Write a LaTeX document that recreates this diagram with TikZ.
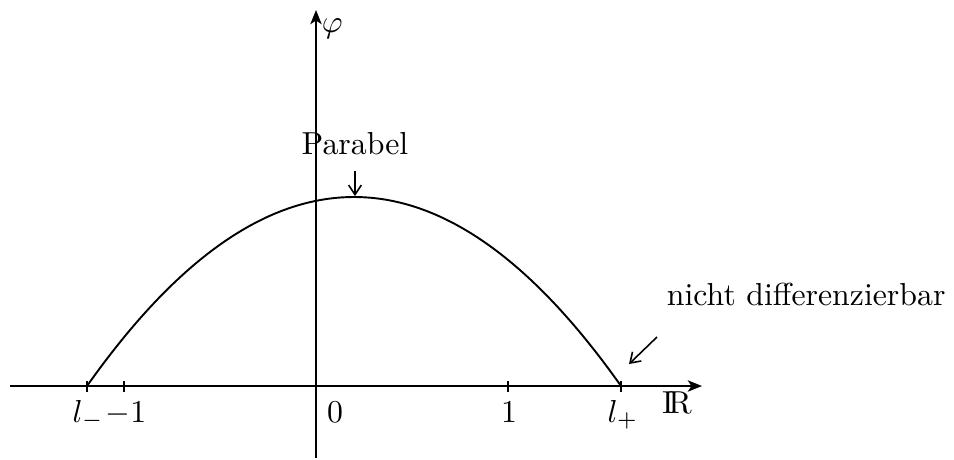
\documentclass[tikz,border=0pt]{standalone}
\usetikzlibrary{arrows.meta}
\begin{document}
\begin{tikzpicture}[x=0.3145pt,y=-0.3145pt, line width=0.6pt,
  axis/.style={-{Stealth[length=4.5pt,width=3.6pt,inset=1.2pt]}},
  tickmark/.style={line width=0.5pt},
  lbl/.style={inner sep=0pt, anchor=base},
  pointer/.style={-{Straight Barb[length=3pt,width=4pt]}, line width=0.5pt}]
\useasboundingbox (0,0) rectangle (954,459);
% axes
\coordinate (xs) at (10,386);
\coordinate (xe) at (702,386);
\coordinate (ys) at (316,458);
\coordinate (ye) at (316,10);
\draw[axis, line width=0.5pt] (xs) -- (xe);
\draw[axis, line width=0.5pt] (ys) -- (ye);
\node[lbl, anchor=base west] (phi) at (321,32) {$\varphi$};
\node[lbl] (R) at (677,413) {$\mathrm{I\!R}$};
% ticks
\coordinate (lm) at (87,386);
\coordinate (m1) at (124,386);
\coordinate (p1) at (508,386);
\coordinate (lp) at (621,386);
\foreach \t in {lm,m1,p1,lp} \draw[tickmark] (\t) ++(0,-5) -- ++(0,11);
% tick labels
\node[lbl] (llm) at (88,422) {$l_-$};
\node[lbl] (lm1) at (126,422) {$-1$};
\node[lbl] (l0) at (335,422) {$0$};
\node[lbl] (l1) at (509,422) {$1$};
\node[lbl] (llp) at (623,422) {$l_+$};
% parabola
\draw (lm) .. controls (265,134) and (443,134) .. (lp);
% annotations
\coordinate (peak) at (355,196);
\node[lbl] (par) at (355,154) {Parabel};
\draw[pointer, shorten <=5pt] (par.south) -- (peak);
\node[lbl, anchor=base west] (nd) at (666,305) {nicht differenzierbar};
\coordinate (ndfrom) at (657,337);
\coordinate (ndto) at (629,364);
\draw[pointer] (ndfrom) -- (ndto);
\end{tikzpicture}
\end{document}
